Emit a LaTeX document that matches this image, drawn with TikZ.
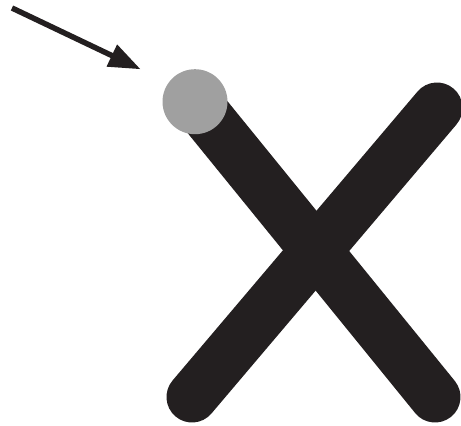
\documentclass[tikz,border=0pt]{standalone}
\usetikzlibrary{arrows.meta}
\definecolor{ink}{HTML}{231F20}
\definecolor{dotgray}{HTML}{A0A0A0}
\tikzset{
  bar/.style={draw=ink, line width=51pt, line cap=round},
  pointer/.style={draw=ink, line width=5.5pt, -{Triangle[length=32pt,width=23pt]}},
  dot/.style={circle, fill=dotgray, minimum size=65pt, inner sep=0pt}
}
\begin{document}
\begin{tikzpicture}[x=1pt,y=-1pt]
\useasboundingbox (0,0) rectangle (461,426);
\coordinate (s1a) at (195,101.7);
\coordinate (s1b) at (435,397);
\coordinate (s2a) at (192,397);
\coordinate (s2b) at (437,108);
\draw[bar] (s1a) -- (s1b);
\draw[bar] (s2a) -- (s2b);
\node[dot] (ball) at (s1a) {};
\coordinate (tail) at (12,8);
\coordinate (tip) at (140.7,69.3);
\draw[pointer] (tail) -- (tip);
\end{tikzpicture}
\end{document}
